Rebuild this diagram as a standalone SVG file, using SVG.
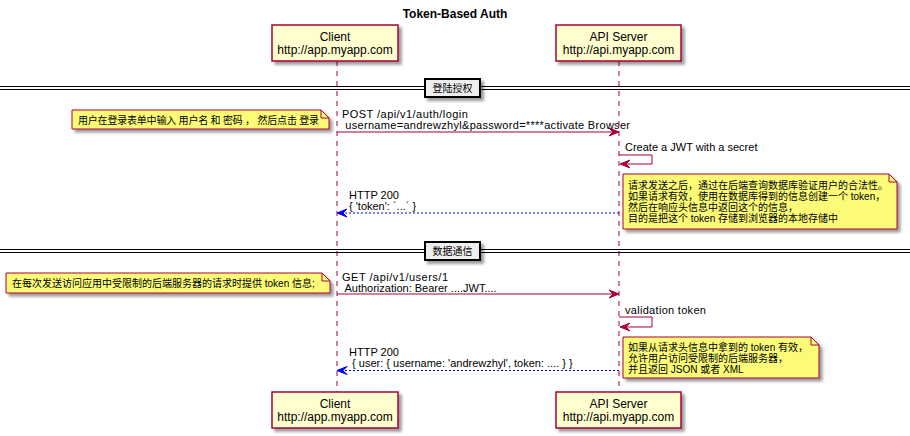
<svg xmlns="http://www.w3.org/2000/svg" width="910" height="436" viewBox="0 0 910 436">
<defs>
<filter id="sh" x="-10%" y="-10%" width="130%" height="150%">
<feGaussianBlur in="SourceAlpha" stdDeviation="1.5"/>
<feOffset dx="3" dy="3" result="b"/>
<feComponentTransfer><feFuncA type="linear" slope="0.4"/></feComponentTransfer>
<feMerge><feMergeNode/><feMergeNode in="SourceGraphic"/></feMerge>
</filter>
</defs>
<style>
text{font-family:"Liberation Sans","Noto Sans CJK SC",sans-serif;fill:#000}
.t{font-size:12px;font-weight:bold}
.p{font-size:12px;text-anchor:middle}
.m{font-size:11px}
.n{font-size:10px}
.pbox{fill:#FEFECE;stroke:#A80036;stroke-width:1.5}
.life{stroke:#A80036;stroke-width:1;stroke-dasharray:5,5}
.note{fill:#FBFB77;stroke:#A80036;stroke-width:1}
.fold{fill:none;stroke:#A80036;stroke-width:1}
.sep{stroke:#000;stroke-width:1}
.sbox{fill:#EEEEEE;stroke:#000;stroke-width:2}
.msg{fill:none;stroke:#A80036;stroke-width:1}
.ah{fill:#A80036;stroke:#A80036;stroke-width:1}
.ret{fill:none;stroke:#0000FF;stroke-width:1;stroke-dasharray:2,2}
.rh{fill:#0000FF;stroke:#0000FF;stroke-width:1}
</style>
<text class="t" x="455" y="18" text-anchor="middle">Token-Based Auth</text>
<g id="lifelines">
<line class="life" x1="337" y1="61" x2="337" y2="392"/>
<line class="life" x1="619" y1="61" x2="619" y2="392"/>
</g>
<g id="client">
<rect class="pbox" x="272" y="25" width="126" height="36" filter="url(#sh)"/>
<text class="p" x="335" y="41">Client</text>
<text class="p" x="335" y="54">http://app.myapp.com</text>
</g>
<g id="apiserver">
<rect class="pbox" x="556" y="25" width="125" height="36" filter="url(#sh)"/>
<text class="p" x="618.5" y="41">API Server</text>
<text class="p" x="618.5" y="54">http://api.myapp.com</text>
</g>
<g id="client-bottom">
<rect class="pbox" x="272" y="392" width="126" height="36" filter="url(#sh)"/>
<text class="p" x="335" y="408">Client</text>
<text class="p" x="335" y="421">http://app.myapp.com</text>
</g>
<g id="apiserver-bottom">
<rect class="pbox" x="556" y="392" width="125" height="36" filter="url(#sh)"/>
<text class="p" x="618.5" y="408">API Server</text>
<text class="p" x="618.5" y="421">http://api.myapp.com</text>
</g>
<g id="divider1">
<line class="sep" x1="0" y1="86.5" x2="910" y2="86.5"/>
<line class="sep" x1="0" y1="89.5" x2="910" y2="89.5"/>
<rect class="sbox" x="425" y="79" width="55" height="18" filter="url(#sh)"/>
<text class="n" x="452.5" y="92" text-anchor="middle">登陆授权</text>
</g>
<g id="divider2">
<line class="sep" x1="0" y1="249.5" x2="910" y2="249.5"/>
<line class="sep" x1="0" y1="252.5" x2="910" y2="252.5"/>
<rect class="sbox" x="425" y="242" width="55" height="18" filter="url(#sh)"/>
<text class="n" x="452.5" y="255" text-anchor="middle">数据通信</text>
</g>
<g id="note1">
<path class="note" d="M72,110 L321,110 L329,118 L329,129 L72,129 Z" filter="url(#sh)"/>
<path class="fold" d="M321,110 L321,118 L329,118"/>
<text class="n" x="78" y="124" letter-spacing="-0.2">用户在登录表单中输入 用户名 和 密码 ， 然后点击 登录</text>
</g>
<g id="note2">
<path class="note" d="M623,174 L889,174 L897,182 L897,229 L623,229 Z" filter="url(#sh)"/>
<path class="fold" d="M889,174 L889,182 L897,182"/>
<text class="n" x="628" y="189">请求发送之后，通过在后端查询数据库验证用户的合法性。</text>
<text class="n" x="628" y="200">如果请求有效，使用在数据库得到的信息创建一个 token，</text>
<text class="n" x="628" y="211">然后在响应头信息中返回这个的信息，</text>
<text class="n" x="628" y="222">目的是把这个 token 存储到浏览器的本地存储中</text>
</g>
<g id="note3">
<path class="note" d="M6,273 L322,273 L330,281 L330,293 L6,293 Z" filter="url(#sh)"/>
<path class="fold" d="M322,273 L322,281 L330,281"/>
<text class="n" x="12" y="287">在每次发送访问应用中受限制的后端服务器的请求时提供 token 信息;</text>
</g>
<g id="note4">
<path class="note" d="M623,337 L811,337 L819,345 L819,378 L623,378 Z" filter="url(#sh)"/>
<path class="fold" d="M811,337 L811,345 L819,345"/>
<text class="n" x="628" y="351">如果从请求头信息中拿到的 token 有效，</text>
<text class="n" x="628" y="362">允许用户访问受限制的后端服务器，</text>
<text class="n" x="628" y="373">并且返回 JSON 或者 XML</text>
</g>
<g id="connectors">
<line class="msg" x1="337" y1="132" x2="617" y2="132"/>
<polygon class="ah" points="609,128 619,132 609,136 613,132"/>
<polyline class="msg" points="619,155 652,155 652,164 621,164"/>
<polygon class="ah" points="630,160 620,164 630,168 626,164"/>
<line class="ret" x1="619" y1="213" x2="339" y2="213"/>
<polygon class="rh" points="347,209 337,213 347,217 343,213"/>
<line class="msg" x1="337" y1="294" x2="617" y2="294"/>
<polygon class="ah" points="609,290 619,294 609,298 613,294"/>
<polyline class="msg" points="619,317 652,317 652,327 621,327"/>
<polygon class="ah" points="630,323 620,327 630,331 626,327"/>
<line class="ret" x1="619" y1="370.5" x2="339" y2="370.5"/>
<polygon class="rh" points="347,366.5 337,370.5 347,374.5 343,370.5"/>
</g>
<g id="labels">
<text class="m" x="342" y="118" letter-spacing="0.45">POST /api/v1/auth/login</text>
<text class="m" x="342" y="129" letter-spacing="0.3" xml:space="preserve"> username=andrewzhyl&amp;password=****activate Browser</text>
<text class="m" x="625" y="151">Create a JWT with a secret</text>
<text class="m" x="349" y="199">HTTP 200</text>
<text class="m" x="349" y="210">{ 'token': ´...´ }</text>
<text class="m" x="342" y="281" letter-spacing="0.5">GET /api/v1/users/1</text>
<text class="m" x="342" y="292" xml:space="preserve"> Authorization: Bearer ....JWT....</text>
<text class="m" x="625" y="314" letter-spacing="0.3">validation token</text>
<text class="m" x="349" y="356">HTTP 200</text>
<text class="m" x="349" y="367" xml:space="preserve"> { user: { username: 'andrewzhyl', token: .... } }</text>
</g>
</svg>
